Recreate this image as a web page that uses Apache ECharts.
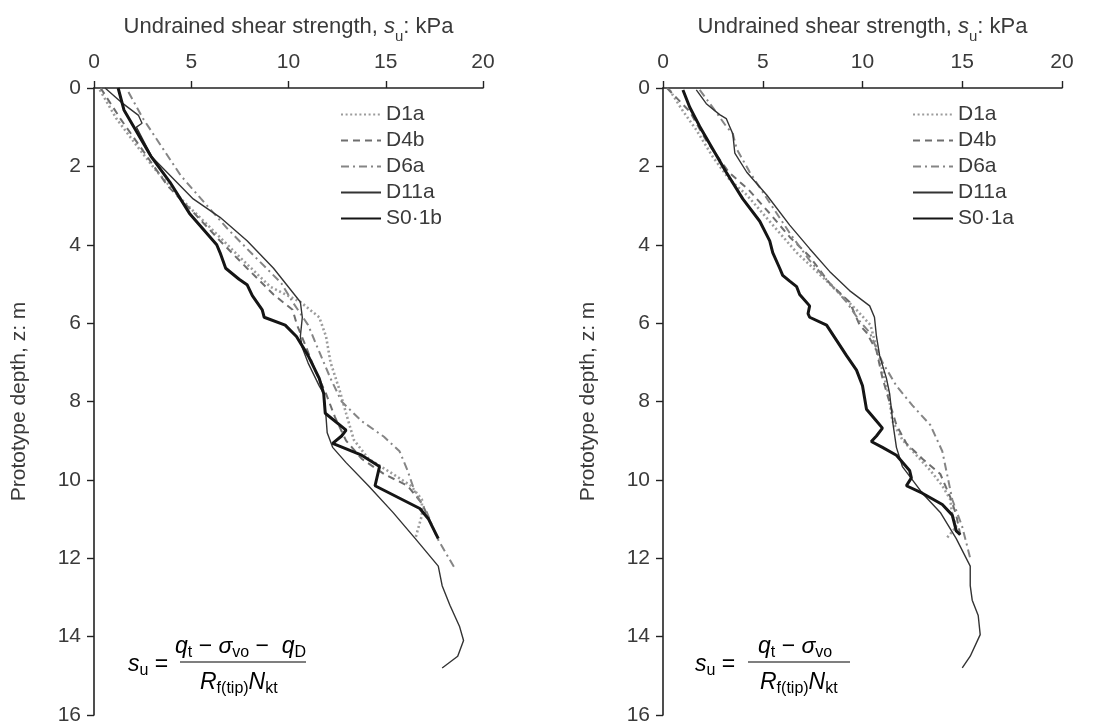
<!DOCTYPE html>
<html><head><meta charset="utf-8">
<script src="https://cdn.jsdelivr.net/npm/echarts@6/dist/echarts.min.js"></script>
<style>html,body{margin:0;padding:0;background:#fff}#c{width:1097px;height:726px}</style>
</head><body><div id="c"></div>
<script>
// ---------- data: [su (kPa), depth z (m)] ----------
const xTicks = [0, 5, 10, 15, 20];
const yTicks = [0, 2, 4, 6, 8, 10, 12, 14, 16];
const leftNames  = ['D1a', 'D4b', 'D6a', 'D11a', 'S0·1b'];
const rightNames = ['D1a', 'D4b', 'D6a', 'D11a', 'S0·1a'];

// left panel (with q_D)
const L_D1a = [[0.3,0.05],[1.15,0.78],[2.18,1.46],[3.1,2.05],[4.47,2.83],[5.85,3.5],[7.46,4.3],[9.06,5.07],[10.61,5.46],[11.58,5.85],[11.93,6.34],[12.16,7.0],[12.62,7.7],[12.96,8.3],[13.36,8.98],[14.11,9.46],[15.37,9.85],[16.29,10.15],[16.86,10.5],[16.86,10.9],[16.52,11.5]];
const L_D4b = [[0.34,0.0],[1.38,0.8],[2.52,1.6],[3.79,2.5],[5.16,3.2],[6.48,3.9],[7.87,4.6],[9.23,5.27],[10.21,5.66],[10.44,6.05],[10.9,6.6],[11.36,7.2],[11.93,7.8],[12.39,8.4],[12.96,9.0],[13.76,9.46],[14.91,9.85],[16.12,10.15],[16.86,10.6],[17.32,11.1]];
const L_D6a = [[1.77,0.1],[2.52,0.78],[3.56,1.56],[4.47,2.24],[5.51,2.83],[6.88,3.6],[8.26,4.3],[9.63,4.98],[10.21,5.46],[11.01,6.05],[11.58,6.73],[12.16,7.41],[12.73,8.0],[13.76,8.5],[14.91,8.9],[15.71,9.27],[16.12,9.76],[16.52,10.34],[17.09,10.8],[17.66,11.5],[18.6,12.3]];
const L_D11a = [[0.57,0.0],[1.49,0.4],[2.29,0.7],[2.47,0.9],[2.18,1.0],[2.98,1.76],[5.1,2.83],[6.48,3.3],[7.87,3.9],[9.23,4.6],[10.61,5.46],[10.71,5.85],[10.61,6.34],[10.71,6.63],[11.01,7.02],[11.58,7.6],[11.81,7.8],[11.93,8.4],[11.99,8.8],[12.27,9.17],[12.96,9.56],[14.11,10.15],[15.37,10.83],[16.52,11.5],[17.7,12.2],[17.9,12.7],[18.3,13.2],[18.8,13.75],[19.0,14.1],[18.7,14.5],[17.9,14.8]];
const L_S01b = [[1.24,0.0],[1.54,0.56],[2.95,1.76],[3.9,2.4],[4.91,3.2],[6.31,4.0],[6.48,4.2],[6.77,4.6],[7.46,4.88],[7.87,5.02],[8.14,5.3],[8.65,5.66],[8.75,5.85],[9.83,6.05],[10.41,6.34],[11.01,6.83],[11.58,7.41],[11.81,7.8],[11.89,8.3],[12.96,8.73],[12.73,8.88],[12.27,9.07],[13.76,9.37],[14.68,9.66],[14.45,10.15],[16.75,10.73],[17.2,11.0],[17.7,11.5]];

// right panel (without q_D)
const R_D1a = [[0.33,0.05],[1.0,0.59],[1.67,1.07],[2.5,1.76],[3.34,2.34],[4.2,2.73],[5.0,3.2],[5.85,3.7],[6.7,4.2],[7.7,4.68],[8.7,5.17],[9.7,5.66],[10.4,6.05],[10.7,6.63],[11.0,7.2],[11.3,7.8],[11.5,8.5],[12.0,8.98],[12.7,9.37],[13.4,9.76],[14.0,10.15],[14.4,10.5],[14.5,10.9],[14.7,11.2],[14.2,11.5]];
const R_D4b = [[0.2,0.0],[1.34,0.6],[2.2,1.37],[3.3,2.15],[4.3,2.6],[5.35,3.2],[6.35,3.8],[7.35,4.3],[8.35,4.98],[9.35,5.46],[9.86,6.05],[10.2,6.24],[10.7,6.7],[11.0,7.4],[11.4,8.1],[11.7,8.6],[12.2,9.07],[13.0,9.46],[13.9,9.85],[14.4,10.44],[14.7,10.9],[14.9,11.4]];
const R_D6a = [[1.84,0.05],[2.5,0.5],[3.17,0.98],[3.5,1.17],[3.7,1.56],[4.35,2.15],[5.35,2.93],[6.35,3.7],[7.35,4.4],[8.35,4.98],[9.2,5.46],[9.86,5.95],[10.36,6.24],[11.0,7.0],[11.7,7.6],[12.5,8.1],[13.4,8.6],[14.0,9.27],[14.2,9.76],[14.5,10.5],[15.0,11.2],[15.4,12.0]];
const R_D11a = [[1.67,0.05],[2.17,0.4],[2.84,0.68],[3.17,0.78],[3.34,0.98],[3.5,1.17],[3.6,1.66],[4.2,2.15],[5.2,2.73],[6.35,3.5],[7.35,4.1],[8.35,4.68],[9.35,5.17],[10.36,5.56],[10.6,5.85],[10.7,6.34],[10.86,6.83],[11.2,7.41],[11.36,7.8],[11.53,8.58],[11.7,9.17],[12.0,9.66],[13.0,10.34],[13.9,10.83],[14.7,11.5],[15.4,12.2],[15.4,12.7],[15.5,13.07],[15.8,13.46],[15.9,13.95],[15.4,14.5],[15.0,14.8]];
const R_S01a = [[1.0,0.05],[1.34,0.49],[1.84,0.98],[2.5,1.56],[3.17,2.15],[4.0,2.83],[4.85,3.4],[5.35,3.9],[5.5,4.2],[5.85,4.6],[6.0,4.78],[6.35,4.93],[6.7,5.07],[6.85,5.27],[7.35,5.56],[7.27,5.76],[7.35,5.85],[8.2,6.05],[8.7,6.44],[9.2,6.83],[9.7,7.2],[10.0,7.6],[10.1,7.9],[10.2,8.2],[10.7,8.5],[11.0,8.68],[10.7,8.88],[10.44,9.02],[11.0,9.17],[11.7,9.37],[12.36,9.76],[12.45,9.95],[12.2,10.15],[13.0,10.34],[14.0,10.63],[14.5,10.9],[14.7,11.3],[14.9,11.4]];

const leftData = [L_D1a, L_D4b, L_D6a, L_D11a, L_S01b];
const rightData = [R_D1a, R_D4b, R_D6a, R_D11a, R_S01a];

// ---------- styles ----------
const FONT = 'Liberation Sans, Arial, Helvetica, sans-serif';
const TXT = '#3a3a3a';
const FS = 21;
const styles = [
  {color:'#9c9c9c', width:2.6, type:[2,2.6]},
  {color:'#6e6e6e', width:2,   type:[7,5]},
  {color:'#858585', width:2,   type:[8,4,2,4]},
  {color:'#333333', width:1.4, type:'solid'},
  {color:'#151515', width:3,   type:'solid'}
];

function xAxis(gi){
  return {
    gridIndex: gi, type:'value', position:'top', min:0, max:20, interval:5,
    name:'{a|Undrained shear strength, }{i|s}{s|u}{a|: kPa}',
    nameLocation:'middle', nameGap:50,
    nameTextStyle:{rich:{
      a:{fontFamily:FONT,fontSize:22,color:TXT,lineHeight:24,verticalAlign:'bottom'},
      i:{fontFamily:FONT,fontSize:22,color:TXT,fontStyle:'italic',lineHeight:24,verticalAlign:'bottom'},
      s:{fontFamily:FONT,fontSize:15,color:TXT,lineHeight:16,verticalAlign:'bottom',padding:[0,0,-6,0]}
    }},
    axisLine:{show:true,lineStyle:{color:'#222',width:1.6}},
    axisTick:{show:true,inside:false,length:7,lineStyle:{color:'#222',width:1.4}},
    axisLabel:{fontFamily:FONT,fontSize:FS,color:TXT,margin:15},
    splitLine:{show:false}
  };
}
function yAxis(gi){
  return {
    gridIndex: gi, type:'value', inverse:true, min:0, max:16, interval:2,
    name:'Prototype depth, z: m', nameLocation:'middle', nameGap:64,
    nameTextStyle:{fontFamily:FONT,fontSize:FS,color:TXT},
    axisLine:{show:true,onZero:false,lineStyle:{color:'#222',width:1.6}},
    axisTick:{show:true,inside:false,length:7,lineStyle:{color:'#222',width:1.4}},
    axisLabel:{fontFamily:FONT,fontSize:FS,color:TXT,margin:13},
    splitLine:{show:false}
  };
}

const series = [];
[leftData, rightData].forEach((set, gi) => {
  const names = gi === 0 ? leftNames : rightNames;
  set.forEach((d, k) => {
    series.push({
      type:'line', name:names[k], xAxisIndex:gi, yAxisIndex:gi,
      data:d, symbol:'none', smooth:false, silent:true, animation:false,
      z: k === 4 ? 5 : 3,
      lineStyle:{color:styles[k].color,width:styles[k].width,type:styles[k].type,cap:'butt'},
      itemStyle:{color:styles[k].color}
    });
  });
});

function legend(left, names){
  return {
    show:true, orient:'vertical', left:left, top:99, itemWidth:40, itemHeight:14, itemGap:5,
    data:names, selectedMode:false,
    itemStyle:{opacity:0},
    textStyle:{fontFamily:FONT,fontSize:FS,color:TXT}
  };
}

const mathRich = {
  n:{fontFamily:FONT,fontSize:23,color:TXT,lineHeight:28,verticalAlign:'middle'},
  i:{fontFamily:FONT,fontSize:23,color:TXT,fontStyle:'italic',lineHeight:28,verticalAlign:'middle'},
  s:{fontFamily:FONT,fontSize:16,color:TXT,lineHeight:28,verticalAlign:'middle',padding:[12,0,0,0]}
};
function formula(x0, y0, num, barX1, barX2, numX, denX){
  return [
    {type:'text', left:x0, top:y0-14, style:{rich:mathRich, text:'{i|s}{s|u}{n| =}'}},
    {type:'text', left:numX, top:y0-32, style:{rich:mathRich, text:num}},
    {type:'line', shape:{x1:barX1,y1:y0-3,x2:barX2,y2:y0-3}, style:{stroke:'#555',lineWidth:1.6}},
    {type:'text', left:denX, top:y0+4, style:{rich:mathRich, text:'{i|R}{s|f(tip)}{i|N}{s|kt}'}}
  ];
}

const option = {
  backgroundColor:'#fff', animation:false,
  grid:[
    {left:94, top:88, width:389, height:627},
    {left:663, top:88, width:399, height:627}
  ],
  xAxis:[xAxis(0), xAxis(1)],
  yAxis:[yAxis(0), yAxis(1)],
  legend:[legend(335, leftNames), legend(907, rightNames)],
  series: series,
  graphic: [].concat(
    formula(128, 665, '{i|q}{s|t}{n| − }{i|σ}{s|vo}{n| −  }{i|q}{s|D}', 180, 306, 175, 200),
    formula(695, 665, '{i|q}{s|t}{n| − }{i|σ}{s|vo}', 748, 850, 758, 760)
  )
};
const chart = echarts.init(document.getElementById('c'), null, {renderer:'canvas'});
chart.setOption(option);
</script></body></html>
